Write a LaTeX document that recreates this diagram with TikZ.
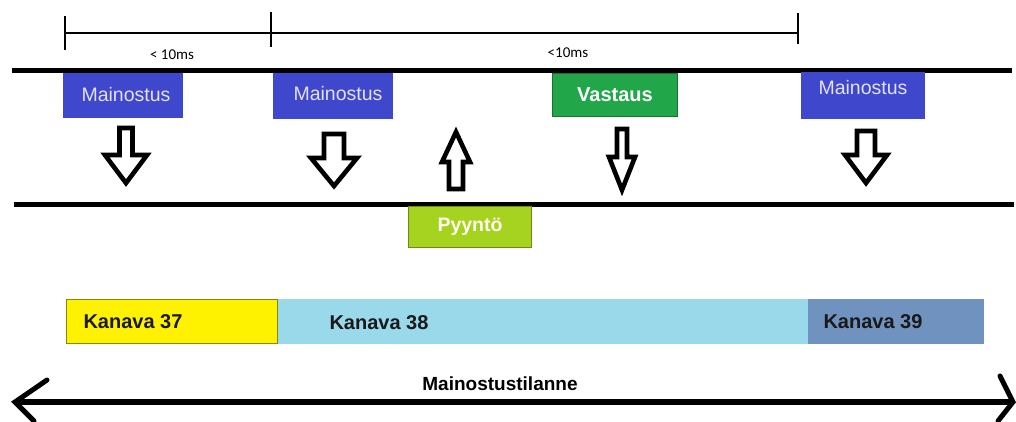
\documentclass[tikz,border=0pt]{standalone}
\usepackage{fontspec}
\setmainfont{Liberation Sans}
\newfontfamily\carl{Carlito}
\begin{document}
\begin{tikzpicture}[x=1pt,y=-1pt,
  thickline/.style={line width=5pt},
  timeline/.style={line width=2.8pt},
  blockarr/.style={line width=4.6pt, draw=black, fill=white, line join=miter},
  adbox/.style={fill=adblue, minimum width=120pt, minimum height=45pt, inner sep=0pt},
  adtext/.style={text=adtxt, font=\fontsize{19.5}{22}\selectfont},
  chan/.style={font=\bfseries\fontsize{20}{24}\selectfont, text=black!90, anchor=west},
  mstext/.style={font=\carl\fontsize{15}{17}\selectfont}
]
\definecolor{adblue}{HTML}{3F48CC}
\definecolor{adtxt}{HTML}{E2E2FA}
\definecolor{vgreen}{HTML}{22A64A}
\definecolor{vgreenb}{HTML}{1B6F33}
\definecolor{pgreen}{HTML}{A6D31F}
\definecolor{pgreenb}{HTML}{6E8C14}
\definecolor{ch37}{HTML}{FFF200}
\definecolor{ch38}{HTML}{99D9EA}
\definecolor{ch39}{HTML}{7092BE}
\useasboundingbox (0,0) rectangle (1016,421);
\fill[white] (0,0) rectangle (1016,421);
\newcommand\blockarrowshape[6]{% cx, shaft end, head base, tip, shaft half, head half
  \draw[blockarr] (#1-#5,#2) -- (#1+#5,#2) -- (#1+#5,#3) -- (#1+#6,#3) -- (#1,#4)
     -- (#1-#6,#3) -- (#1-#5,#3) -- cycle;}
% timing bar
\coordinate (t1) at (65,33);
\coordinate (t2) at (271,33);
\coordinate (t3) at (798,33);
\draw[timeline] (t1) -- (t3);
\draw[timeline] (65,16) -- (65,50);
\draw[timeline] (271,12) -- (271,47);
\draw[timeline] (798,13) -- (798,44);
\node[mstext] (ms1) at (172,55) {< 10ms};
\node[mstext] (ms2) at (568,53) {<10ms};
% channel lines
\coordinate (l1a) at (12,70);
\coordinate (l1b) at (1012,70);
\coordinate (l2a) at (14,204);
\coordinate (l2b) at (1014,204);
\draw[thickline] (l1a) -- (l1b);
\draw[thickline] (l2a) -- (l2b);
% boxes
\node[adbox] (m1) at (123,95) {};
\node[adtext] at (126,95) {Mainostus};
\node[adbox, minimum height=46pt] (m2) at (333,96) {};
\node[adtext] at (338,94) {Mainostus};
\node[adbox, minimum width=124pt, minimum height=47pt] (m3) at (863,95.5) {};
\node[adtext] at (863,88) {Mainostus};
\node[fill=vgreen, draw=vgreenb, line width=1.2pt, minimum width=125pt, minimum height=43pt, inner sep=0pt,
      text=white, font=\bfseries\fontsize{20}{24}\selectfont] (v) at (615,95) {Vastaus};
\node[fill=pgreen, draw=pgreenb, line width=1.2pt, minimum width=123pt, minimum height=41pt, inner sep=0pt,
      text=white!94!yellow, font=\bfseries\fontsize{19.5}{24}\selectfont] (p) at (470,227) {Pyyntö};
% block arrows
\blockarrowshape{126}{128}{155}{183}{6.5}{21}
\blockarrowshape{334}{134}{158}{186}{10}{23}
\blockarrowshape{456}{189}{162}{132}{7}{14}
\blockarrowshape{622}{129}{157}{190}{5}{13}
\blockarrowshape{866}{131}{155}{183}{9}{21}
% channels
\fill[ch38] (277,299) rectangle (808,344);
\fill[ch39] (808,299) rectangle (984,344);
\draw[fill=ch37, draw=black!45!ch37, line width=0.8pt] (66,299.5) rectangle (277,343.5);
\node[chan] (k37) at (80,322) {Kanava 37};
\node[chan] (k38) at (326,323) {Kanava 38};
\node[chan] (k39) at (820,322) {Kanava 39};
% situation arrow
\node[font=\bfseries\fontsize{19}{22}\selectfont] (sit) at (500,384) {Mainostustilanne};
\coordinate (la) at (15,402);
\coordinate (ra) at (1013,402);
\draw[line width=6pt] (la) -- (ra);
\draw[line width=5pt, line cap=round, line join=miter] (47,380) -- (la) -- (34,421);
\draw[line width=5pt, line cap=round, line join=miter] (1000,376) -- (ra) -- (998,421);
\end{tikzpicture}
\end{document}
